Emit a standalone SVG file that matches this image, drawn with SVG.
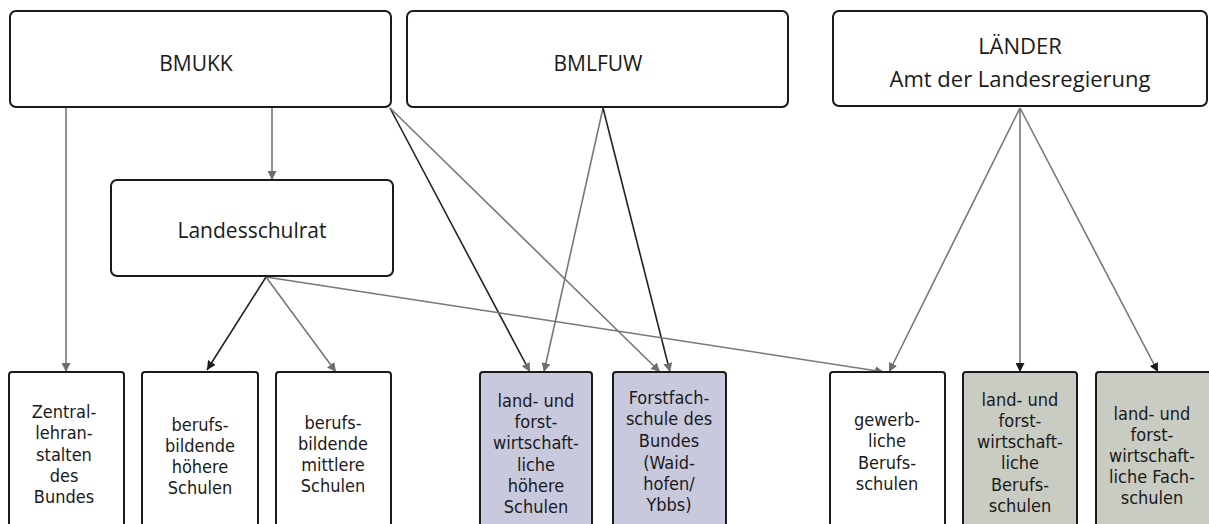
<svg xmlns="http://www.w3.org/2000/svg" width="1209" height="524" viewBox="0 0 1209 524">
<style>
.box{fill:#fff;stroke:#1a1a1a;stroke-width:2}
.lav{fill:#c9c9dd;stroke:#1a1a1a;stroke-width:2}
.grn{fill:#c9ccc3;stroke:#1a1a1a;stroke-width:2}
text{font-family:"DejaVu Sans Condensed","Liberation Sans",sans-serif;font-size:18px;fill:#1a1a1a;text-anchor:middle}
.t{font-family:"Open Sans","Liberation Sans",sans-serif;font-size:21px}
.tl{font-family:"Open Sans","Liberation Sans",sans-serif;font-size:22px}
.c{fill:none;stroke:#777;stroke-width:1.6}
.k{fill:none;stroke:#222;stroke-width:1.6}
</style>
<defs>
<marker id="ag" viewBox="0 0 10 10" refX="10" refY="5" markerWidth="9" markerHeight="9" markerUnits="userSpaceOnUse" orient="auto"><path d="M0,0 L10,5 L0,10 z" fill="#6e6e6e"/></marker>
<marker id="ak" viewBox="0 0 10 10" refX="10" refY="5" markerWidth="9" markerHeight="9" markerUnits="userSpaceOnUse" orient="auto"><path d="M0,0 L10,5 L0,10 z" fill="#1a1a1a"/></marker>
</defs>
<rect width="1209" height="524" fill="#fff"/>
<g id="connectors">
<path class="c" d="M66,107 L66,372" marker-end="url(#ag)"/>
<path class="c" d="M272,107 L272,180" marker-end="url(#ag)"/>
<path class="k" d="M390,108 L530,372" marker-end="url(#ag)"/>
<path class="c" d="M390,108 L660,372" marker-end="url(#ag)"/>
<path class="c" d="M603,108 L544,372" marker-end="url(#ag)"/>
<path class="k" d="M603,108 L670,372" marker-end="url(#ag)"/>
<path class="k" d="M266,277 L207,370" marker-end="url(#ak)"/>
<path class="c" d="M266,277 L336,372" marker-end="url(#ag)"/>
<path class="c" d="M266,277 L884,372" marker-end="url(#ag)"/>
<path class="c" d="M1020,108 L889,372" marker-end="url(#ag)"/>
<path class="c" d="M1020,108 L1020,372" marker-end="url(#ak)"/>
<path class="c" d="M1020,108 L1158,372" marker-end="url(#ak)"/>
</g>
<g id="bmukk"><rect class="box" x="10" y="11" width="381" height="96" rx="6"/><text class="t" x="196" y="71">BMUKK</text></g>
<g id="bmlfuw"><rect class="box" x="407" y="11" width="381" height="96" rx="6"/><text class="t" x="598" y="71">BMLFUW</text></g>
<g id="laender"><rect class="box" x="833" y="11" width="374" height="95" rx="6"/><text class="tl" x="1020" y="54">LÄNDER</text><text class="tl" x="1020" y="87">Amt der Landesregierung</text></g>
<g id="landesschulrat"><rect class="box" x="111" y="180" width="282" height="96" rx="6"/><text class="t" x="252" y="238">Landesschulrat</text></g>
<g id="zentral"><rect class="box" x="9" y="372" width="115" height="160" rx="3"/>
<text x="64" y="418">Zentral-</text><text x="64" y="439">lehran-</text><text x="64" y="461">stalten</text><text x="64" y="482">des</text><text x="64" y="503">Bundes</text></g>
<g id="bhs"><rect class="box" x="142" y="372" width="116" height="160" rx="3"/>
<text x="200" y="431">berufs-</text><text x="200" y="452">bildende</text><text x="200" y="473">höhere</text><text x="200" y="494">Schulen</text></g>
<g id="bms"><rect class="box" x="276" y="372" width="115" height="160" rx="3"/>
<text x="333" y="429">berufs-</text><text x="333" y="450">bildende</text><text x="333" y="471">mittlere</text><text x="333" y="492">Schulen</text></g>
<g id="lfhs"><rect class="lav" x="480" y="372" width="112" height="160" rx="3"/>
<text x="536" y="407">land- und</text><text x="536" y="428">forst-</text><text x="536" y="449">wirtschaft-</text><text x="536" y="471">liche</text><text x="536" y="492">höhere</text><text x="536" y="513">Schulen</text></g>
<g id="forstfach"><rect class="lav" x="613" y="372" width="113" height="160" rx="3"/>
<text x="669" y="404">Forstfach-</text><text x="669" y="425">schule des</text><text x="669" y="447">Bundes</text><text x="669" y="469">(Waid-</text><text x="669" y="490">hofen/</text><text x="669" y="511">Ybbs)</text></g>
<g id="gewerb"><rect class="box" x="830" y="372" width="115" height="160" rx="3"/>
<text x="887" y="426">gewerb-</text><text x="887" y="447">liche</text><text x="887" y="469">Berufs-</text><text x="887" y="490">schulen</text></g>
<g id="lfbs"><rect class="grn" x="963" y="372" width="114" height="160" rx="3"/>
<text x="1020" y="406">land- und</text><text x="1020" y="427">forst-</text><text x="1020" y="448">wirtschaft-</text><text x="1020" y="469">liche</text><text x="1020" y="491">Berufs-</text><text x="1020" y="512">schulen</text></g>
<g id="lffs"><rect class="grn" x="1096" y="372" width="115" height="160" rx="3"/>
<text x="1152" y="420">land- und</text><text x="1152" y="441">forst-</text><text x="1152" y="462">wirtschaft-</text><text x="1152" y="483">liche Fach-</text><text x="1152" y="504">schulen</text></g>
</svg>
